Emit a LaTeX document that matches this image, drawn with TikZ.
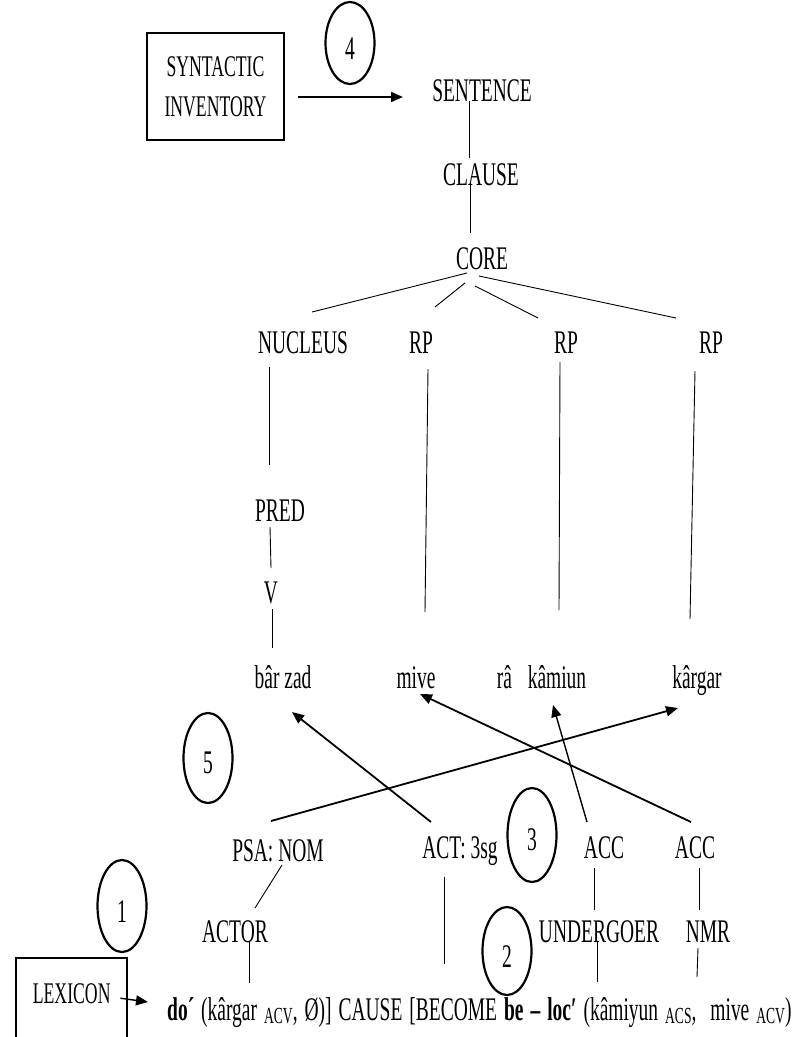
\documentclass[tikz,border=0pt]{standalone}
\usepackage{fontspec}
\setmainfont{Liberation Serif}[FakeStretch=0.59]
\usepackage{tikz}
\usetikzlibrary{arrows.meta,positioning,shapes.geometric,calc}

\newcommand{\treesize}{\fontsize{33}{40}\selectfont}
\newcommand{\boxsize}{\fontsize{30}{40}\selectfont}
\newcommand{\lowsub}[1]{\raisebox{-3pt}{\fontsize{23}{23}\selectfont #1}}

\begin{document}
\begin{tikzpicture}[
    x=1pt, y=-1pt,
    word/.style={inner sep=0pt, anchor=base, font=\treesize},
    box/.style={draw, line width=2.4pt, inner sep=0pt, align=center, font=\boxsize},
    num/.style={draw, ellipse, line width=2.2pt, minimum width=49pt, inner sep=0pt, font=\treesize, text height=32pt},
    tline/.style={line width=0.9pt},
    arrow/.style={-{Triangle[length=12pt, width=10pt]}, line width=1.8pt},
]
\useasboundingbox (0,0) rectangle (800,1037);
\clip (0,0) rectangle (800,1037);

% ---------- Sources ----------
\node[box, minimum width=137pt, minimum height=107pt] (syntactic) at (215.5,86.5) {SYNTACTIC\\INVENTORY};
\node[box, minimum width=111pt, minimum height=100pt, text height=20pt, text depth=30pt, anchor=north west] (lexicon) at (15,957) {LEXICON};

% ---------- Layered structure ----------
\node[word] (sentence) at (482,101) {SENTENCE};
\node[word] (clause) at (481,185) {CLAUSE};
\node[word] (core) at (482,269) {CORE};
\node[word] (nucleus) at (303,353) {NUCLEUS};
\node[word] (rpA) at (421,353) {RP};
\node[word] (rpB) at (566,353) {RP};
\node[word] (rpC) at (711,353) {RP};
\node[word] (pred) at (280,521) {PRED};
\node[word] (verb) at (271,603) {V};

% ---------- Sentence words ----------
\node[word] (barzad) at (283,688) {bâr zad};
\node[word] (mive) at (416,688) {mive};
\node[word] (ra) at (504.5,688) {râ};
\node[word] (kamiun) at (557,688) {kâmiun};
\node[word] (kargar) at (697,688) {kârgar};

% ---------- Linking labels ----------
\node[word] (psa) at (278,861) {PSA: NOM};
\node[word] (act) at (460,858) {ACT: 3sg};
\node[word] (accA) at (604,858) {ACC};
\node[word] (accB) at (695,858) {ACC};
\node[word] (actor) at (235,942) {ACTOR};
\node[word] (undergoer) at (599,942) {UNDERGOER};
\node[word] (nmr) at (708,942) {NMR};

% ---------- Logical structure ----------
\node[word, anchor=base west] (formula) at (167,1020)
    {\spaceskip=7pt plus 1pt\textbf{do´} (kârgar \lowsub{ACV}, Ø)] CAUSE [BECOME \textbf{be – loc′} (kâmiyun \lowsub{ACS}, \ mive \lowsub{ACV})};

% ---------- Numbered steps ----------
\node[num, minimum height=82pt] (num4) at (350,43) {4};
\node[num, minimum height=90pt] (num5) at (208,758) {5};
\node[num, minimum height=94pt] (num3) at (532,835) {3};
\node[num, minimum height=88pt] (num2) at (507,951) {2};
\node[num, minimum height=92pt] (num1) at (122,906) {1};

% ---------- Tree lines ----------
\draw[tline] ($(sentence.base)+(-13,0)$) -- ($(clause.base)+(-12,-27)$);
\draw[tline] ($(clause.base)+(-11,-3)$) -- ($(core.base)+(-12,-36)$);
\draw[tline] ($(core.base)+(-15,4)$) -- ($(nucleus.base)+(9,-41)$);
\draw[tline] ($(core.base)+(-17,14)$) -- ($(rpA.base)+(14,-46)$);
\draw[tline] ($(core.base)+(-7,17)$) -- ($(rpB.base)+(-28,-35)$);
\draw[tline] ($(core.base)+(-3,7)$) -- ($(rpC.base)+(-35,-35)$);
\draw[tline] ($(nucleus.base)+(-34,14)$) -- ($(pred.base)+(-11,-56)$);
\draw[tline] ($(pred.base)+(-10,6)$) -- ($(verb.base)+(0,-35)$);
\draw[tline] ($(verb.base)+(1,6)$) -- ($(barzad.base)+(-11,-40)$);
\draw[tline] ($(rpA.base)+(7,16)$) -- ($(mive.base)+(9,-76)$);
\draw[tline] ($(rpB.base)+(-6,9)$) -- ($(kamiun.base)+(2,-78)$);
\draw[tline] ($(rpC.base)+(-16,18)$) -- ($(kargar.base)+(-7,-69)$);

% ---------- Linking lines ----------
\draw[tline] ($(psa.base)+(4,4)$) -- ($(actor.base)+(20,-34)$);
\draw[tline] ($(act.base)+(-16,19)$) -- ($(formula.base west)+(277,-56)$);
\draw[tline] ($(accA.base)+(-10,10)$) -- ($(undergoer.base)+(-5,-32)$);
\draw[tline] ($(accB.base)+(4,10)$) -- ($(nmr.base)+(-9,-32)$);
\draw[tline] ($(actor.base)+(14,0)$) -- ($(formula.base west)+(82,-37)$);
\draw[tline] ($(undergoer.base)+(-2,0)$) -- ($(formula.base west)+(430,-38)$);
\draw[tline] ($(nmr.base)+(-10,6)$) -- ($(formula.base west)+(530,-43)$);

% ---------- Arrows ----------
\draw[arrow] ($(syntactic.east)+(13,10.5)$) -- ($(sentence.base)+(-79,-4)$);
\draw[arrow, line width=1.4pt] ($(lexicon.east)+(-8,-10)$) -- ($(formula.base west)+(-19,-18)$);
\draw[arrow] ($(psa.base)+(-7,-40)$) -- ($(kargar.base)+(-19,20)$);
\draw[arrow] ($(act.base)+(-29,-36)$) -- ($(barzad.base)+(9,24)$);
\draw[arrow, line width=1.4pt] ($(accA.base)+(-17,-36)$) -- ($(kamiun.base)+(-4,17)$);
\draw[arrow] ($(accB.base)+(-4,-36)$) -- ($(mive.base)+(4,6)$);

\end{tikzpicture}
\end{document}
